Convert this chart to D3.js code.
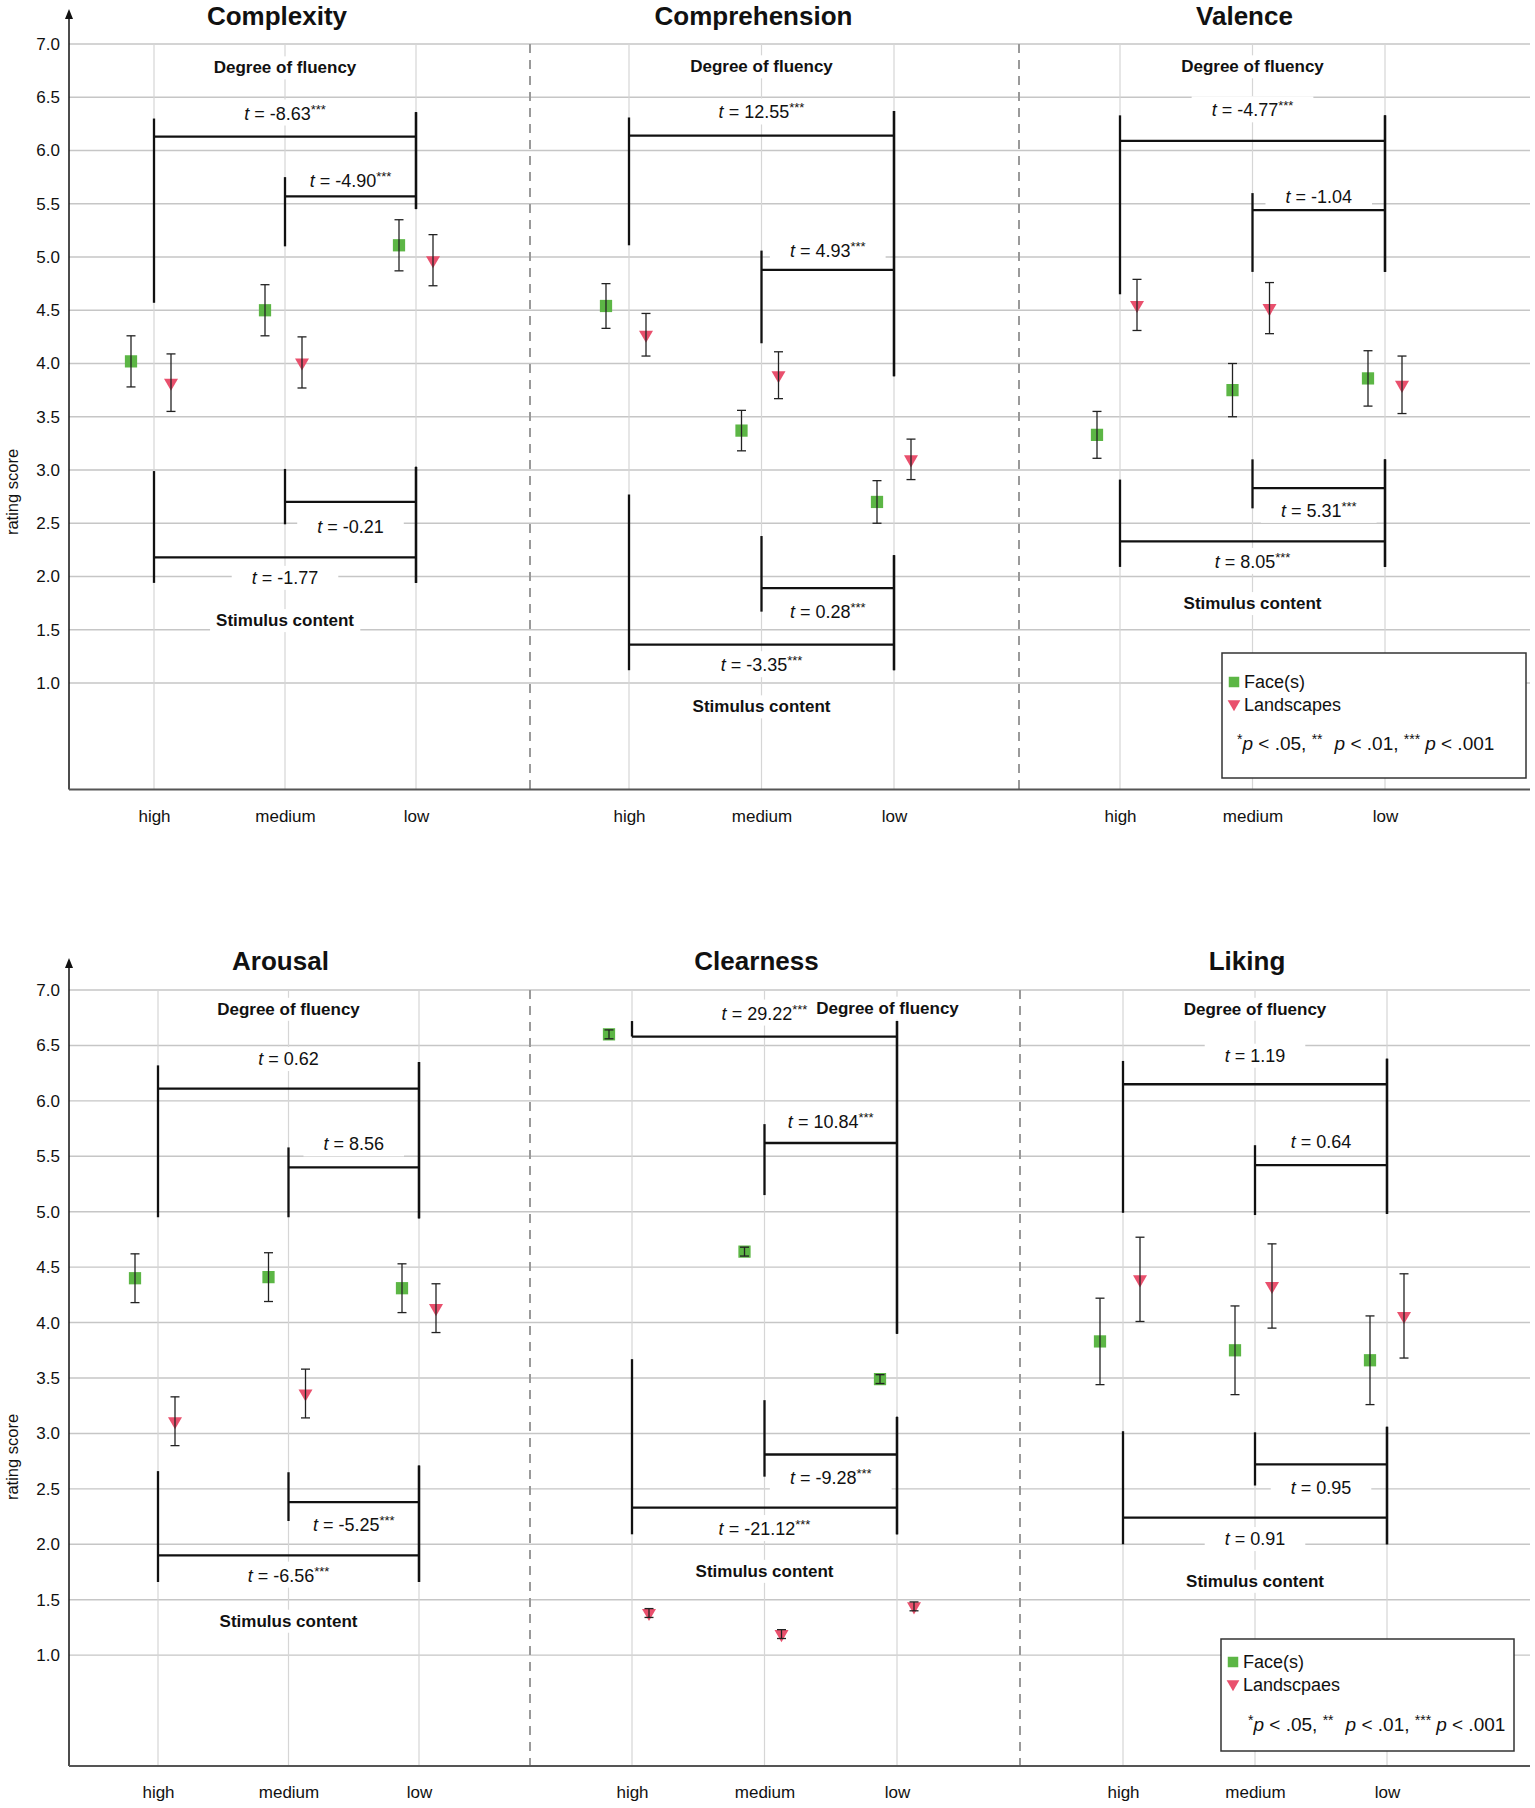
<!DOCTYPE html>
<html>
<head>
<meta charset="utf-8">
<script src="https://cdn.jsdelivr.net/npm/d3@7"></script>
<style>
  body { margin: 0; background: #fff; }
  text { font-family: "Liberation Sans", Arial, Helvetica, sans-serif; }
</style>
</head>
<body>
<svg id="chart"></svg>
<script>
// ---- data ----
const categories = ["high", "medium", "low"];
const titles = ["Complexity", "Comprehension", "Valence", "Arousal", "Clearness", "Liking"];
const yTicks = [1, 1.5, 2, 2.5, 3, 3.5, 4, 4.5, 5, 5.5, 6, 6.5, 7];

const facesMean = [
  [4.02, 4.50, 5.11],
  [4.54, 3.37, 2.70],
  [3.33, 3.75, 3.86],
  [4.40, 4.41, 4.31],
  [6.60, 4.64, 3.49],
  [3.83, 3.75, 3.66]
];
const facesErr = [
  [0.24, 0.24, 0.24],
  [0.21, 0.19, 0.20],
  [0.22, 0.25, 0.26],
  [0.22, 0.22, 0.22],
  [0.04, 0.04, 0.04],
  [0.39, 0.40, 0.40]
];
const landMean = [
  [3.82, 4.01, 4.97],
  [4.27, 3.89, 3.10],
  [4.55, 4.52, 3.80],
  [3.11, 3.36, 4.13],
  [1.38, 1.19, 1.44],
  [4.39, 4.33, 4.06]
];
const landErr = [
  [0.27, 0.24, 0.24],
  [0.20, 0.22, 0.19],
  [0.24, 0.24, 0.27],
  [0.22, 0.22, 0.22],
  [0.04, 0.04, 0.04],
  [0.38, 0.38, 0.38]
];

// t statistics: [high vs low, medium vs low]
const tFluency = [
  ["-8.63***", "-4.90***"],
  ["12.55***", "4.93***"],
  ["-4.77***", "-1.04"],
  ["0.62", "8.56"],
  ["29.22***", "10.84***"],
  ["1.19", "0.64"]
];
// t statistics: [medium vs low, high vs low]
const tContent = [
  ["-0.21", "-1.77"],
  ["0.28***", "-3.35***"],
  ["5.31***", "8.05***"],
  ["-5.25***", "-6.56***"],
  ["-9.28***", "-21.12***"],
  ["0.95", "0.91"]
];

// bracket geometry in rating units:
// [from, to, bar, leftTop, leftBottom, rightTop, rightBottom, labelY]
const fluencyBrackets = [
  [[0, 2, 6.13, 6.30, 4.57, 6.36, 5.45, 6.35], [1, 2, 5.57, 5.75, 5.10, 6.36, 5.45, 5.72]],
  [[0, 2, 6.14, 6.31, 5.11, 6.37, 3.88, 6.36], [1, 2, 4.88, 5.06, 4.19, 6.37, 3.88, 5.06]],
  [[0, 2, 6.09, 6.33, 4.65, 6.33, 4.86, 6.38], [1, 2, 5.44, 5.60, 4.86, 6.33, 4.86, 5.57]],
  [[0, 2, 6.11, 6.32, 4.95, 6.35, 4.94, 6.38], [1, 2, 5.40, 5.58, 4.95, 6.35, 4.94, 5.61]],
  [[0, 2, 6.58, 6.72, 6.58, 6.72, 3.90, 6.79], [1, 2, 5.62, 5.79, 5.15, 6.72, 3.90, 5.81]],
  [[0, 2, 6.15, 6.36, 4.99, 6.38, 4.98, 6.41], [1, 2, 5.42, 5.60, 4.97, 6.38, 4.98, 5.63]]
];
const contentBrackets = [
  [[1, 2, 2.70, 3.01, 2.49, 3.03, 1.94, 2.47], [0, 2, 2.18, 2.99, 1.94, 3.03, 1.94, 1.99]],
  [[1, 2, 1.89, 2.38, 1.67, 2.20, 1.12, 1.67], [0, 2, 1.36, 2.77, 1.12, 2.20, 1.12, 1.17]],
  [[1, 2, 2.83, 3.10, 2.64, 3.10, 2.09, 2.62], [0, 2, 2.33, 2.91, 2.09, 3.10, 2.09, 2.14]],
  [[1, 2, 2.38, 2.65, 2.21, 2.71, 1.66, 2.18], [0, 2, 1.90, 2.66, 1.66, 2.71, 1.66, 1.72]],
  [[1, 2, 2.81, 3.30, 2.61, 3.15, 2.09, 2.60], [0, 2, 2.33, 3.67, 2.09, 3.15, 2.09, 2.14]],
  [[1, 2, 2.72, 3.01, 2.53, 3.06, 2.00, 2.51], [0, 2, 2.24, 3.02, 2.00, 3.06, 2.00, 2.05]]
];
const fluencyLabelY = [6.78, 6.79, 6.79, 6.83, 6.84, 6.83];
const contentLabelY = [1.59, 0.78, 1.75, 1.31, 1.76, 1.67];
const fluencyLabelShift = [0, 0, 0, 0, 123, 0];

// ---- layout ----
const W = 1535, H = 1808;
const axisX = 69, rightX = 1530;
const green = "#5cb645", pink = "#e9506d";
const facesDx = [-23, -20, -17], landDx = [17, 17, 17];

const rows = [
  {
    panels: [0, 1, 2], y0: 789.5, y7: 44, arrowTop: 9, titleY: 25,
    ranges: [[154, 416], [629, 894], [1120, 1385]], seps: [530, 1019], labelY: 492,
    legend: { x: 1222, y: 653, w: 304, h: 125, r1: 29, r2: 52, r3: 97, px: 15, name: "Landscapes" }
  },
  {
    panels: [3, 4, 5], y0: 1766, y7: 990, arrowTop: 958, titleY: 970,
    ranges: [[158, 419], [632, 897], [1123, 1387]], seps: [530, 1020], labelY: 1457,
    legend: { x: 1221, y: 1639, w: 293, h: 112, r1: 23, r2: 46, r3: 92, px: 27, name: "Landscpaes" }
  }
];

const svg = d3.select("#chart").attr("width", W).attr("height", H);

function withBg(bg, textSel, padX, padY) {
  const b = textSel.node().getBBox();
  bg.append("rect")
    .attr("x", b.x - padX).attr("y", b.y - padY)
    .attr("width", b.width + 2 * padX).attr("height", b.height + 2 * padY)
    .attr("fill", "#fff");
}

function tLabel(g, bg, x, yy, str) {
  const m = str.match(/^([^*]*)(\**)$/);
  const t = g.append("text").attr("x", x).attr("y", yy).attr("dy", "0.35em")
    .attr("text-anchor", "middle").attr("font-size", 18).attr("fill", "#111");
  t.append("tspan").attr("font-style", "italic").text("t");
  t.append("tspan").text(" = " + m[1]);
  if (m[2]) t.append("tspan").attr("font-size", 13).attr("dy", -6).text(m[2]);
  withBg(bg, t, 20, 2);
}

function drawRow(row) {
  const y = d3.scaleLinear().domain([0, 7]).range([row.y0, row.y7]);
  const gridG = svg.append("g");
  const bgG = svg.append("g");
  const labelG = svg.append("g");
  const bracketG = svg.append("g");
  const markG = svg.append("g");
  const axisG = svg.append("g");

  gridG.selectAll("line.h").data(yTicks).enter().append("line")
    .attr("x1", axisX).attr("x2", rightX)
    .attr("y1", d => y(d)).attr("y2", d => y(d))
    .attr("stroke", "#c6c6c6").attr("stroke-width", 1.4);

  row.seps.forEach(sx => {
    gridG.append("line").attr("x1", sx).attr("x2", sx)
      .attr("y1", y(7)).attr("y2", y(0))
      .attr("stroke", "#9a9a9a").attr("stroke-width", 2).attr("stroke-dasharray", "9,7");
  });

  row.panels.forEach((p, i) => {
    const x = d3.scalePoint().domain(categories).range(row.ranges[i]);

    gridG.selectAll(null).data(categories).enter().append("line")
      .attr("x1", d => x(d)).attr("x2", d => x(d))
      .attr("y1", y(7)).attr("y2", y(0))
      .attr("stroke", "#d6d6d6").attr("stroke-width", 1.2);

    // title
    svg.append("text").attr("x", x("medium") - 8).attr("y", row.titleY)
      .attr("text-anchor", "middle").attr("font-size", 26).attr("font-weight", "bold")
      .attr("fill", "#111").text(titles[p]);

    // x tick labels
    const xAxis = d3.axisBottom(x).tickSize(0).tickPadding(20);
    const xa = axisG.append("g").attr("transform", `translate(0,${row.y0})`).call(xAxis);
    xa.select(".domain").remove();
    xa.selectAll("text").attr("font-size", 17).attr("fill", "#111")
      .attr("font-family", "\"Liberation Sans\", Arial, sans-serif");

    // section labels
    const fl = labelG.append("text").attr("x", x("medium") + fluencyLabelShift[p]).attr("y", y(fluencyLabelY[p]))
      .attr("dy", "0.35em").attr("text-anchor", "middle").attr("font-size", 17)
      .attr("font-weight", "bold").attr("fill", "#111").text("Degree of fluency");
    withBg(bgG, fl, 6, 2);
    const cl = labelG.append("text").attr("x", x("medium")).attr("y", y(contentLabelY[p]))
      .attr("dy", "0.35em").attr("text-anchor", "middle").attr("font-size", 17)
      .attr("font-weight", "bold").attr("fill", "#111").text("Stimulus content");
    withBg(bgG, cl, 6, 2);

    // brackets
    const brackets = fluencyBrackets[p].concat(contentBrackets[p]);
    const labels = tFluency[p].concat(tContent[p]);
    brackets.forEach((b, k) => {
      const xa0 = x(categories[b[0]]), xb0 = x(categories[b[1]]);
      const lines = [
        [xa0, y(b[3]), xa0, y(b[4])],
        [xb0, y(b[5]), xb0, y(b[6])],
        [xa0, y(b[2]), xb0, y(b[2])]
      ];
      bracketG.selectAll(null).data(lines).enter().append("line")
        .attr("x1", d => d[0]).attr("y1", d => d[1]).attr("x2", d => d[2]).attr("y2", d => d[3])
        .attr("stroke", "#111").attr("stroke-width", 2.3);
      tLabel(labelG, bgG, (xa0 + xb0) / 2, y(b[7]), labels[k]);
    });

    // markers + error bars
    const series = [
      { mean: facesMean[p], err: facesErr[p], dx: facesDx, shape: "square", color: green },
      { mean: landMean[p], err: landErr[p], dx: landDx, shape: "tri", color: pink }
    ];
    series.forEach(s => {
      const pts = categories.map((c, j) => ({ cx: x(c) + s.dx[j], m: s.mean[j], e: s.err[j] }));
      if (s.shape === "square") {
        markG.selectAll(null).data(pts).enter().append("path")
          .attr("d", d3.symbol(d3.symbolSquare, 150))
          .attr("transform", d => `translate(${d.cx},${y(d.m)})`).attr("fill", s.color);
      } else {
        markG.selectAll(null).data(pts).enter().append("path")
          .attr("d", d3.symbol(d3.symbolTriangle, 85))
          .attr("transform", d => `translate(${d.cx},${y(d.m)}) rotate(180)`).attr("fill", s.color);
      }
      const eb = markG.selectAll(null).data(pts).enter().append("g").attr("stroke", "#222").attr("stroke-width", 1.3);
      eb.append("line").attr("x1", d => d.cx).attr("x2", d => d.cx)
        .attr("y1", d => y(d.m + d.e)).attr("y2", d => y(d.m - d.e));
      eb.append("line").attr("x1", d => d.cx - 4.5).attr("x2", d => d.cx + 4.5)
        .attr("y1", d => y(d.m + d.e)).attr("y2", d => y(d.m + d.e));
      eb.append("line").attr("x1", d => d.cx - 4.5).attr("x2", d => d.cx + 4.5)
        .attr("y1", d => y(d.m - d.e)).attr("y2", d => y(d.m - d.e));
    });
  });

  // legend
  const L = row.legend;
  const lg = svg.append("g").attr("transform", `translate(${L.x},${L.y})`);
  lg.append("rect").attr("width", L.w).attr("height", L.h)
    .attr("fill", "#fff").attr("stroke", "#333").attr("stroke-width", 1.5);
  lg.append("path").attr("d", d3.symbol(d3.symbolSquare, 110))
    .attr("transform", `translate(12,${L.r1})`).attr("fill", green);
  lg.append("text").attr("x", 22).attr("y", L.r1).attr("dy", "0.35em")
    .attr("font-size", 18).attr("fill", "#111").text("Face(s)");
  lg.append("path").attr("d", d3.symbol(d3.symbolTriangle, 70))
    .attr("transform", `translate(12,${L.r2 - 1}) rotate(180)`).attr("fill", pink);
  lg.append("text").attr("x", 22).attr("y", L.r2).attr("dy", "0.35em")
    .attr("font-size", 18).attr("fill", "#111").text(L.name);
  const pt = lg.append("text").attr("x", L.px).attr("y", L.r3).attr("dy", "0.35em")
    .attr("font-size", 19).attr("fill", "#111");
  const parts = [
    ["*", "sup"], ["p", "it"], [" < .05, ", ""], ["**", "sup"], ["p", "it2"], [" < .01, ", ""],
    ["***", "sup"], ["p", "it3"], [" < .001", ""]
  ];
  let raised = false;
  parts.forEach(([txt, kind]) => {
    const ts = pt.append("tspan").text(txt);
    if (kind === "sup") {
      ts.attr("font-size", 14).attr("dy", raised ? 0 : -6);
      raised = true;
    } else {
      if (raised) { ts.attr("dy", 6); raised = false; }
      if (kind.startsWith("it")) ts.attr("font-style", "italic");
      if (kind === "it2") ts.attr("dx", 12);
      if (kind === "it3") ts.attr("dx", 5);
    }
  });

  // y axis
  const yAxis = d3.axisLeft(y).tickValues(yTicks).tickFormat(d3.format(".1f"))
    .tickSize(0).tickPadding(9);
  const ya = axisG.append("g").attr("transform", `translate(${axisX},0)`).call(yAxis);
  ya.select(".domain").remove();
  ya.selectAll("text").attr("font-size", 17).attr("fill", "#111")
    .attr("font-family", "\"Liberation Sans\", Arial, sans-serif");

  axisG.append("line").attr("x1", axisX).attr("x2", axisX)
    .attr("y1", row.arrowTop + 6).attr("y2", y(0))
    .attr("stroke", "#111").attr("stroke-width", 1.5);
  axisG.append("path")
    .attr("d", `M${axisX},${row.arrowTop} L${axisX - 4},${row.arrowTop + 10} L${axisX + 4},${row.arrowTop + 10} Z`)
    .attr("fill", "#111");
  axisG.append("line").attr("x1", axisX).attr("x2", rightX)
    .attr("y1", y(0)).attr("y2", y(0))
    .attr("stroke", "#555").attr("stroke-width", 1.8);

  svg.append("text").attr("transform", `translate(18,${row.labelY}) rotate(-90)`)
    .attr("text-anchor", "middle").attr("font-size", 16.5).attr("fill", "#111").text("rating score");
}

rows.forEach(drawRow);
</script>
</body>
</html>
